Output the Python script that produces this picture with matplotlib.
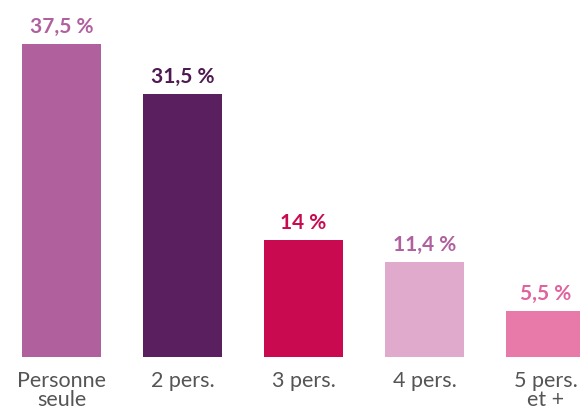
import matplotlib
matplotlib.use("Agg")
import matplotlib.pyplot as plt

categories = ["Personne\nseule", "2 pers.", "3 pers.", "4 pers.", "5 pers.\net +"]
values = [37.5, 31.5, 14.0, 11.4, 5.5]
value_labels = ["37,5 %", "31,5 %", "14 %", "11,4 %", "5,5 %"]
bar_colors = ["#B0619D", "#5A1F5E", "#C90A50", "#DFAACB", "#E87AA9"]
label_colors = ["#B0619D", "#4E1A52", "#C90A50", "#B0619D", "#E0639D"]

plt.rcParams["font.family"] = ["Lato", "DejaVu Sans"]

fig = plt.figure(figsize=(5.8, 4.12), dpi=100)
ax = fig.add_axes([0, 55 / 412, 1, 357 / 412])

x = list(range(len(values)))
ax.bar(x, values, width=0.66, color=bar_colors, edgecolor="none")

for xi, v, lab, c in zip(x, values, value_labels, label_colors):
    ax.annotate(lab, (xi, v), xytext=(0, 5), textcoords="offset points",
                ha="center", va="bottom", fontsize=15, fontweight="bold", color=c)

for xi, cat in zip(x, categories):
    ax.annotate(cat, (xi, 0), xytext=(0, -10), textcoords="offset points",
                ha="center", va="top", fontsize=15.5, color="#555555",
                linespacing=0.95, annotation_clip=False)

ax.set_xlim(-0.508, 4.285)
ax.set_ylim(0, 42.75)
ax.axis("off")

fig.savefig("out.png", dpi=100, facecolor="white")
